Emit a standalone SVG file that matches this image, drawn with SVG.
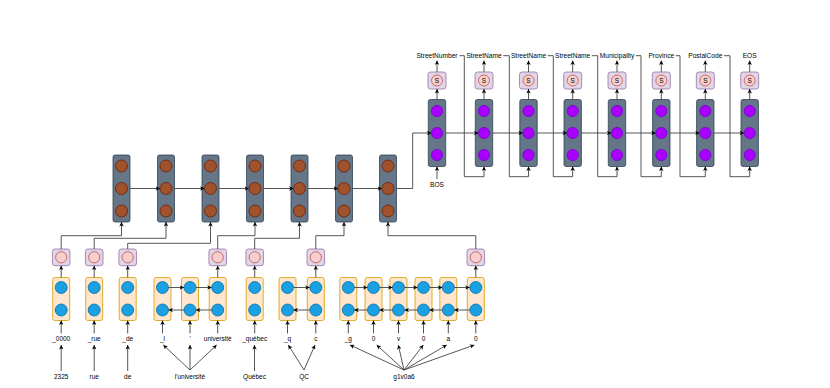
<svg xmlns="http://www.w3.org/2000/svg" width="830" height="388" viewBox="0 0 830 388">
<style>
.enc{fill:#647687;stroke:#314354;stroke-width:0.8}
.ec{fill:#a0522d;stroke:#6d1f00;stroke-width:0.8}
.dc{fill:#aa00ff;stroke:#7700cc;stroke-width:0.8}
.sb{fill:#e1d5e7;stroke:#9673a6;stroke-width:0.8}
.sc{fill:#f8cecc;stroke:#b85450;stroke-width:0.8}
.ob{fill:#ffe6cc;stroke:#d79b00;stroke-width:0.8}
.bc{fill:#1ba1e2;stroke:#006eaf;stroke-width:0.8}
.t{font-family:"Liberation Sans",Arial,sans-serif;font-size:6.5px;fill:#000;text-anchor:middle}
.tt{font-family:"Liberation Sans",Arial,sans-serif;font-size:6.6px;fill:#000;text-anchor:middle}
.c{fill:none;stroke:#444;stroke-width:0.9}
.a{marker-end:url(#ah)}
</style>
<defs>
<marker id="ah" viewBox="0 0 10 10" refX="10" refY="5" markerWidth="4.5" markerHeight="4.5" orient="auto" markerUnits="userSpaceOnUse">
<path d="M0,0 L10,5 L0,10 L3,5 z" fill="#000"/>
</marker>
</defs>

<!-- encoder nodes -->
<g id="enc1"><rect class="enc" x="113" y="155" width="17" height="67" rx="2"/><circle class="ec" cx="121.5" cy="166" r="6"/><circle class="ec" cx="121.5" cy="188.5" r="6"/><circle class="ec" cx="121.5" cy="211" r="6"/></g>
<g id="enc2"><rect class="enc" x="157.5" y="155" width="17" height="67" rx="2"/><circle class="ec" cx="166" cy="166" r="6"/><circle class="ec" cx="166" cy="188.5" r="6"/><circle class="ec" cx="166" cy="211" r="6"/></g>
<g id="enc3"><rect class="enc" x="202" y="155" width="17" height="67" rx="2"/><circle class="ec" cx="210.5" cy="166" r="6"/><circle class="ec" cx="210.5" cy="188.5" r="6"/><circle class="ec" cx="210.5" cy="211" r="6"/></g>
<g id="enc4"><rect class="enc" x="246.5" y="155" width="17" height="67" rx="2"/><circle class="ec" cx="255" cy="166" r="6"/><circle class="ec" cx="255" cy="188.5" r="6"/><circle class="ec" cx="255" cy="211" r="6"/></g>
<g id="enc5"><rect class="enc" x="291" y="155" width="17" height="67" rx="2"/><circle class="ec" cx="299.5" cy="166" r="6"/><circle class="ec" cx="299.5" cy="188.5" r="6"/><circle class="ec" cx="299.5" cy="211" r="6"/></g>
<g id="enc6"><rect class="enc" x="335.5" y="155" width="17" height="67" rx="2"/><circle class="ec" cx="344" cy="166" r="6"/><circle class="ec" cx="344" cy="188.5" r="6"/><circle class="ec" cx="344" cy="211" r="6"/></g>
<g id="enc7"><rect class="enc" x="379.5" y="155" width="17" height="67" rx="2"/><circle class="ec" cx="388" cy="166" r="6"/><circle class="ec" cx="388" cy="188.5" r="6"/><circle class="ec" cx="388" cy="211" r="6"/></g>

<!-- decoder nodes -->
<g id="dec1"><rect class="enc" x="428.3" y="99.5" width="17.4" height="67" rx="2"/><circle class="dc" cx="437" cy="111" r="5.6"/><circle class="dc" cx="437" cy="133" r="5.6"/><circle class="dc" cx="437" cy="155" r="5.6"/></g>
<g id="dec2"><rect class="enc" x="475.3" y="99.5" width="17.4" height="67" rx="2"/><circle class="dc" cx="484" cy="111" r="5.6"/><circle class="dc" cx="484" cy="133" r="5.6"/><circle class="dc" cx="484" cy="155" r="5.6"/></g>
<g id="dec3"><rect class="enc" x="519.8" y="99.5" width="17.4" height="67" rx="2"/><circle class="dc" cx="528.5" cy="111" r="5.6"/><circle class="dc" cx="528.5" cy="133" r="5.6"/><circle class="dc" cx="528.5" cy="155" r="5.6"/></g>
<g id="dec4"><rect class="enc" x="564" y="99.5" width="17.4" height="67" rx="2"/><circle class="dc" cx="572.7" cy="111" r="5.6"/><circle class="dc" cx="572.7" cy="133" r="5.6"/><circle class="dc" cx="572.7" cy="155" r="5.6"/></g>
<g id="dec5"><rect class="enc" x="608.3" y="99.5" width="17.4" height="67" rx="2"/><circle class="dc" cx="617" cy="111" r="5.6"/><circle class="dc" cx="617" cy="133" r="5.6"/><circle class="dc" cx="617" cy="155" r="5.6"/></g>
<g id="dec6"><rect class="enc" x="652.6" y="99.5" width="17.4" height="67" rx="2"/><circle class="dc" cx="661.3" cy="111" r="5.6"/><circle class="dc" cx="661.3" cy="133" r="5.6"/><circle class="dc" cx="661.3" cy="155" r="5.6"/></g>
<g id="dec7"><rect class="enc" x="696.6" y="99.5" width="17.4" height="67" rx="2"/><circle class="dc" cx="705.3" cy="111" r="5.6"/><circle class="dc" cx="705.3" cy="133" r="5.6"/><circle class="dc" cx="705.3" cy="155" r="5.6"/></g>
<g id="dec8"><rect class="enc" x="741" y="99.5" width="17.4" height="67" rx="2"/><circle class="dc" cx="749.7" cy="111" r="5.6"/><circle class="dc" cx="749.7" cy="133" r="5.6"/><circle class="dc" cx="749.7" cy="155" r="5.6"/></g>

<!-- softmax nodes -->
<g id="s1"><rect class="sb" x="428" y="72" width="18" height="17" rx="2.5"/><circle class="sc" cx="437" cy="80.5" r="5.5"/><text class="t" x="437" y="83">S</text></g>
<g id="s2"><rect class="sb" x="475" y="72" width="18" height="17" rx="2.5"/><circle class="sc" cx="484" cy="80.5" r="5.5"/><text class="t" x="484" y="83">S</text></g>
<g id="s3"><rect class="sb" x="519.5" y="72" width="18" height="17" rx="2.5"/><circle class="sc" cx="528.5" cy="80.5" r="5.5"/><text class="t" x="528.5" y="83">S</text></g>
<g id="s4"><rect class="sb" x="563.7" y="72" width="18" height="17" rx="2.5"/><circle class="sc" cx="572.7" cy="80.5" r="5.5"/><text class="t" x="572.7" y="83">S</text></g>
<g id="s5"><rect class="sb" x="608" y="72" width="18" height="17" rx="2.5"/><circle class="sc" cx="617" cy="80.5" r="5.5"/><text class="t" x="617" y="83">S</text></g>
<g id="s6"><rect class="sb" x="652.3" y="72" width="18" height="17" rx="2.5"/><circle class="sc" cx="661.3" cy="80.5" r="5.5"/><text class="t" x="661.3" y="83">S</text></g>
<g id="s7"><rect class="sb" x="696.3" y="72" width="18" height="17" rx="2.5"/><circle class="sc" cx="705.3" cy="80.5" r="5.5"/><text class="t" x="705.3" y="83">S</text></g>
<g id="s8"><rect class="sb" x="740.7" y="72" width="18" height="17" rx="2.5"/><circle class="sc" cx="749.7" cy="80.5" r="5.5"/><text class="t" x="749.7" y="83">S</text></g>

<!-- output labels -->
<g id="out1"><text class="tt" x="437" y="58">StreetNumber</text></g>
<g id="out2"><text class="tt" x="484" y="58">StreetName</text></g>
<g id="out3"><text class="tt" x="528.5" y="58">StreetName</text></g>
<g id="out4"><text class="tt" x="572.7" y="58">StreetName</text></g>
<g id="out5"><text class="tt" x="617" y="58">Municipality</text></g>
<g id="out6"><text class="tt" x="661.3" y="58">Province</text></g>
<g id="out7"><text class="tt" x="705.3" y="58">PostalCode</text></g>
<g id="out8"><text class="tt" x="749.7" y="58">EOS</text></g>
<g id="bos"><text class="tt" x="437" y="186.5">BOS</text></g>

<!-- word piece embedding nodes (orange) -->
<g id="w1"><rect class="ob" x="52.7" y="277.5" width="17" height="43" rx="2"/><circle class="bc" cx="61.2" cy="287.5" r="6"/><circle class="bc" cx="61.2" cy="310" r="6"/></g>
<g id="w2"><rect class="ob" x="85.7" y="277.5" width="17" height="43" rx="2"/><circle class="bc" cx="94.2" cy="287.5" r="6"/><circle class="bc" cx="94.2" cy="310" r="6"/></g>
<g id="w3"><rect class="ob" x="119.2" y="277.5" width="17" height="43" rx="2"/><circle class="bc" cx="127.7" cy="287.5" r="6"/><circle class="bc" cx="127.7" cy="310" r="6"/></g>
<g id="w4"><rect class="ob" x="154" y="277.5" width="17" height="43" rx="2"/><circle class="bc" cx="162.5" cy="287.5" r="6"/><circle class="bc" cx="162.5" cy="310" r="6"/></g>
<g id="w5"><rect class="ob" x="181.5" y="277.5" width="17" height="43" rx="2"/><circle class="bc" cx="190" cy="287.5" r="6"/><circle class="bc" cx="190" cy="310" r="6"/></g>
<g id="w6"><rect class="ob" x="209.2" y="277.5" width="17" height="43" rx="2"/><circle class="bc" cx="217.7" cy="287.5" r="6"/><circle class="bc" cx="217.7" cy="310" r="6"/></g>
<g id="w7"><rect class="ob" x="246.2" y="277.5" width="17" height="43" rx="2"/><circle class="bc" cx="254.7" cy="287.5" r="6"/><circle class="bc" cx="254.7" cy="310" r="6"/></g>
<g id="w8"><rect class="ob" x="279" y="277.5" width="17" height="43" rx="2"/><circle class="bc" cx="287.5" cy="287.5" r="6"/><circle class="bc" cx="287.5" cy="310" r="6"/></g>
<g id="w9"><rect class="ob" x="307.3" y="277.5" width="17" height="43" rx="2"/><circle class="bc" cx="315.8" cy="287.5" r="6"/><circle class="bc" cx="315.8" cy="310" r="6"/></g>
<g id="w10"><rect class="ob" x="339.8" y="277.5" width="17" height="43" rx="2"/><circle class="bc" cx="348.3" cy="287.5" r="6"/><circle class="bc" cx="348.3" cy="310" r="6"/></g>
<g id="w11"><rect class="ob" x="365" y="277.5" width="17" height="43" rx="2"/><circle class="bc" cx="373.5" cy="287.5" r="6"/><circle class="bc" cx="373.5" cy="310" r="6"/></g>
<g id="w12"><rect class="ob" x="390" y="277.5" width="17" height="43" rx="2"/><circle class="bc" cx="398.5" cy="287.5" r="6"/><circle class="bc" cx="398.5" cy="310" r="6"/></g>
<g id="w13"><rect class="ob" x="415" y="277.5" width="17" height="43" rx="2"/><circle class="bc" cx="423.5" cy="287.5" r="6"/><circle class="bc" cx="423.5" cy="310" r="6"/></g>
<g id="w14"><rect class="ob" x="439.8" y="277.5" width="17" height="43" rx="2"/><circle class="bc" cx="448.3" cy="287.5" r="6"/><circle class="bc" cx="448.3" cy="310" r="6"/></g>
<g id="w15"><rect class="ob" x="467.3" y="277.5" width="17" height="43" rx="2"/><circle class="bc" cx="475.8" cy="287.5" r="6"/><circle class="bc" cx="475.8" cy="310" r="6"/></g>

<!-- word embedding nodes (pink) -->
<g id="p1"><rect class="sb" x="52.4" y="249" width="17.6" height="16.7" rx="2.5"/><circle class="sc" cx="61.2" cy="257.3" r="5.6"/></g>
<g id="p2"><rect class="sb" x="85.4" y="249" width="17.6" height="16.7" rx="2.5"/><circle class="sc" cx="94.2" cy="257.3" r="5.6"/></g>
<g id="p3"><rect class="sb" x="118.9" y="249" width="17.6" height="16.7" rx="2.5"/><circle class="sc" cx="127.7" cy="257.3" r="5.6"/></g>
<g id="p4"><rect class="sb" x="208.9" y="249" width="17.6" height="16.7" rx="2.5"/><circle class="sc" cx="217.7" cy="257.3" r="5.6"/></g>
<g id="p5"><rect class="sb" x="245.9" y="249" width="17.6" height="16.7" rx="2.5"/><circle class="sc" cx="254.7" cy="257.3" r="5.6"/></g>
<g id="p6"><rect class="sb" x="307" y="249" width="17.6" height="16.7" rx="2.5"/><circle class="sc" cx="315.8" cy="257.3" r="5.6"/></g>
<g id="p7"><rect class="sb" x="467" y="249" width="17.6" height="16.7" rx="2.5"/><circle class="sc" cx="475.8" cy="257.3" r="5.6"/></g>

<!-- token labels -->
<g id="tok"><text class="t" x="61.2" y="340.5">_0000</text><text class="t" x="94.2" y="340.5">_rue</text><text class="t" x="127.7" y="340.5">_de</text><text class="t" x="162.5" y="340.5">_l</text><text class="t" x="190" y="340.5">'</text><text class="t" x="217.7" y="340.5">université</text><text class="t" x="254.7" y="340.5">_québec</text><text class="t" x="287.5" y="340.5">_q</text><text class="t" x="315.8" y="340.5">c</text><text class="t" x="348.3" y="340.5">_g</text><text class="t" x="373.5" y="340.5">0</text><text class="t" x="398.5" y="340.5">v</text><text class="t" x="423.5" y="340.5">0</text><text class="t" x="448.3" y="340.5">a</text><text class="t" x="475.8" y="340.5">0</text></g>

<!-- raw words -->
<g id="raw"><text class="t" x="61.2" y="379">2325</text><text class="t" x="94.2" y="379">rue</text><text class="t" x="127.7" y="379">de</text><text class="t" x="190" y="379">l'université</text><text class="t" x="254.5" y="379">Québec</text><text class="t" x="304" y="379">QC</text><text class="t" x="404" y="379">g1v0a6</text></g>

<!-- connectors -->
<g id="connectors" class="c">
<!-- encoder chain -->
<path class="a" d="M130,188.5 H160"/>
<path class="a" d="M174.5,188.5 H204.5"/>
<path class="a" d="M219,188.5 H249"/>
<path class="a" d="M263.5,188.5 H293.5"/>
<path class="a" d="M308,188.5 H338"/>
<path class="a" d="M352.5,188.5 H382"/>
<path class="a" d="M396.5,188.5 H412.7 V133 H431.4"/>
<!-- decoder chain -->
<path class="a" d="M445.7,133 H478.4"/>
<path class="a" d="M492.7,133 H522.9"/>
<path class="a" d="M537.2,133 H567.1"/>
<path class="a" d="M581.4,133 H611.4"/>
<path class="a" d="M625.7,133 H655.7"/>
<path class="a" d="M670,133 H699.7"/>
<path class="a" d="M714,133 H744.1"/>
<!-- decoder to softmax to label -->
<path class="a" d="M437,99.5 V89"/><path class="a" d="M437,72 V60.5"/>
<path class="a" d="M484,99.5 V89"/><path class="a" d="M484,72 V60.5"/>
<path class="a" d="M528.5,99.5 V89"/><path class="a" d="M528.5,72 V60.5"/>
<path class="a" d="M572.7,99.5 V89"/><path class="a" d="M572.7,72 V60.5"/>
<path class="a" d="M617,99.5 V89"/><path class="a" d="M617,72 V60.5"/>
<path class="a" d="M661.3,99.5 V89"/><path class="a" d="M661.3,72 V60.5"/>
<path class="a" d="M705.3,99.5 V89"/><path class="a" d="M705.3,72 V60.5"/>
<path class="a" d="M749.7,99.5 V89"/><path class="a" d="M749.7,72 V60.5"/>
<path class="a" d="M437,179 V166.5"/>
<!-- feedback -->
<path class="a" d="M459.5,55.7 H464.3 V176.7 H484 V166.5"/>
<path class="a" d="M503.2,55.7 H509.3 V176.7 H528.5 V166.5"/>
<path class="a" d="M547.7,55.7 H553.3 V176.7 H572.7 V166.5"/>
<path class="a" d="M591.9,55.7 H597.7 V176.7 H617 V166.5"/>
<path class="a" d="M635.8,55.7 H641 V176.7 H661.3 V166.5"/>
<path class="a" d="M675.7,55.7 H680 V176.7 H705.3 V166.5"/>
<path class="a" d="M724,55.7 H730 V176.7 H749.7 V166.5"/>
<!-- pink to encoder -->
<path class="a" d="M61.2,249 V235.7 H121.5 V222"/>
<path class="a" d="M94.2,249 V238.3 H166 V222"/>
<path class="a" d="M127.7,249 V243.3 H210.5 V222"/>
<path class="a" d="M217.7,249 V235.7 H255 V222"/>
<path class="a" d="M254.7,249 V238.3 H299.5 V222"/>
<path class="a" d="M315.8,249 V235.7 H344 V222"/>
<path class="a" d="M475.8,249 V235.7 H388 V222"/>
<!-- orange to pink -->
<path class="a" d="M61.2,277.5 V265.7"/>
<path class="a" d="M94.2,277.5 V265.7"/>
<path class="a" d="M127.7,277.5 V265.7"/>
<path class="a" d="M217.7,277.5 V265.7"/>
<path class="a" d="M254.7,277.5 V265.7"/>
<path class="a" d="M315.8,277.5 V265.7"/>
<path class="a" d="M475.8,277.5 V265.7"/>
<!-- bidirectional -->
<path class="a" d="M168.5,287.5 H184"/><path class="a" d="M196,287.5 H211.7"/>
<path class="a" d="M184,310 H168.5"/><path class="a" d="M211.7,310 H196"/>
<path class="a" d="M293.5,287.5 H309.8"/><path class="a" d="M309.8,310 H293.5"/>
<path class="a" d="M354.3,287.5 H367.5"/><path class="a" d="M379.5,287.5 H392.5"/><path class="a" d="M404.5,287.5 H417.5"/><path class="a" d="M429.5,287.5 H442.3"/><path class="a" d="M454.3,287.5 H469.8"/>
<path class="a" d="M367.5,310 H354.3"/><path class="a" d="M392.5,310 H379.5"/><path class="a" d="M417.5,310 H404.5"/><path class="a" d="M442.3,310 H429.5"/><path class="a" d="M469.8,310 H454.3"/>
<!-- token label to orange -->
<path class="a" d="M61.2,333.5 V320.5"/><path class="a" d="M94.2,333.5 V320.5"/><path class="a" d="M127.7,333.5 V320.5"/>
<path class="a" d="M162.5,333.5 V320.5"/><path class="a" d="M190,333.5 V320.5"/><path class="a" d="M217.7,333.5 V320.5"/>
<path class="a" d="M254.7,333.5 V320.5"/><path class="a" d="M287.5,333.5 V320.5"/><path class="a" d="M315.8,333.5 V320.5"/>
<path class="a" d="M348.3,333.5 V320.5"/><path class="a" d="M373.5,333.5 V320.5"/><path class="a" d="M398.5,333.5 V320.5"/>
<path class="a" d="M423.5,333.5 V320.5"/><path class="a" d="M448.3,333.5 V320.5"/><path class="a" d="M475.8,333.5 V320.5"/>
<!-- raw to tokens -->
<path class="a" d="M61.2,371 V345"/>
<path class="a" d="M94.2,371 V345"/>
<path class="a" d="M127.7,371 V345"/>
<path class="a" d="M254.5,371 V345"/>
<path class="a" d="M190,370 L163.3,345"/><path class="a" d="M190,370 V345"/><path class="a" d="M190,370 L216.7,345"/>
<path class="a" d="M304,370 L288.3,345"/><path class="a" d="M304,370 L315,345"/>
<path class="a" d="M404,370 L350,345"/><path class="a" d="M404,370 L376.7,345"/><path class="a" d="M404,370 L398.3,345"/><path class="a" d="M404,370 L423.3,345"/><path class="a" d="M404,370 L446.7,345"/><path class="a" d="M404,370 L474.3,345"/>
</g>
</svg>
